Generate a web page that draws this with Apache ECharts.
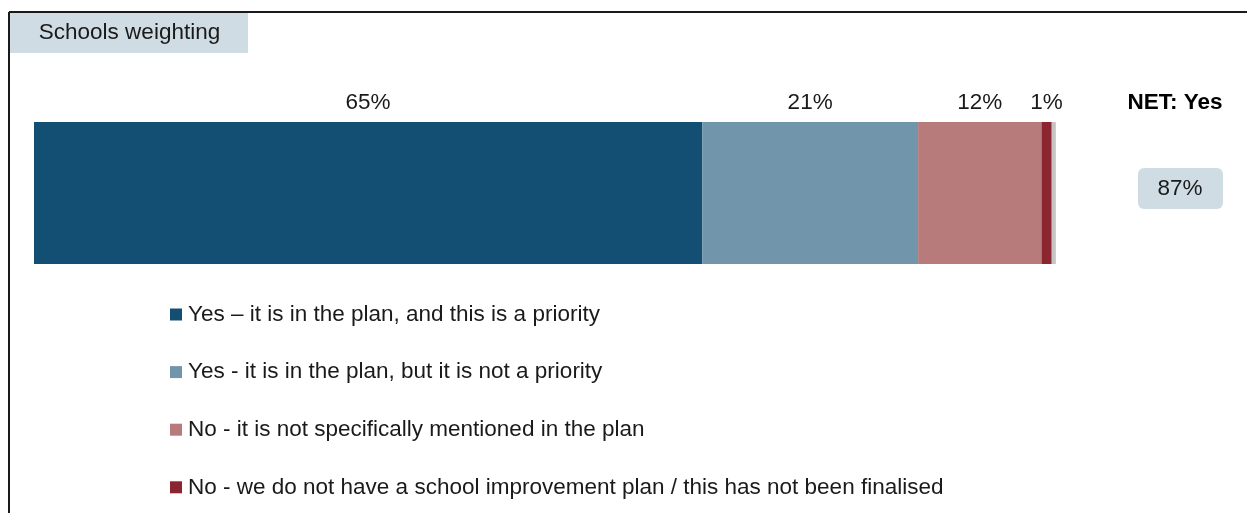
<!DOCTYPE html>
<html>
<head>
<meta charset="utf-8">
<style>
  html, body { margin: 0; padding: 0; background: #ffffff; }
  #chart { width: 1247px; height: 513px; }
</style>
<script src="https://cdn.jsdelivr.net/npm/echarts@6/dist/echarts.min.js"></script>
</head>
<body>
<div id="chart"></div>
<script>
// Share of schools (weighted) by how the topic features in the school improvement plan
const panelTitle = 'Schools weighting';
const category = ['Schools weighting'];
const seriesNames = [
  'Yes \u2013 it is in the plan, and this is a priority',
  'Yes - it is in the plan, but it is not a priority',
  'No - it is not specifically mentioned in the plan',
  'No - we do not have a school improvement plan / this has not been finalised'
];
const seriesValues = [65, 21, 12, 1];
const remainderValue = 0.4;           // small unlabelled remainder (grey)
const netLabel = 'NET: Yes';
const netYes = 87;

const colors = ['#124f73', '#7195ab', '#b87b7c', '#8b2530'];
const remainderColor = '#c4c4c4';
const FONT = '"Liberation Sans", Arial, sans-serif';
const FS = 22.5;

const chart = echarts.init(document.getElementById('chart'), null, { renderer: 'canvas' });

const series = seriesValues.map((v, i) => ({
  name: seriesNames[i],
  type: 'bar',
  stack: 'total',
  barWidth: '100%',
  data: [v],
  itemStyle: { color: colors[i] },
  label: {
    show: true,
    position: 'top',
    distance: 8,
    formatter: p => p.value + '%',
    color: '#1a1a1a',
    fontFamily: FONT,
    fontSize: FS
  }
}));
series.push({
  name: 'remainder',
  type: 'bar',
  stack: 'total',
  barWidth: '100%',
  data: [remainderValue],
  itemStyle: { color: remainderColor },
  label: { show: false }
});

chart.setOption({
  animation: false,
  backgroundColor: '#ffffff',
  grid: { left: 34, right: 185, top: 122, height: 142, containLabel: false },
  xAxis: { type: 'value', min: 0, max: 100, show: false },
  yAxis: { type: 'category', data: category, show: false },
  legend: {
    data: seriesNames,
    orient: 'vertical',
    left: 165,
    top: 298,
    icon: 'rect',
    itemWidth: 12,
    itemHeight: 12,
    itemGap: 34.6,
    textStyle: {
      color: '#1a1a1a',
      fontFamily: FONT,
      fontSize: FS,
      lineHeight: 22.3,
      padding: [0, 0, 0, 1]
    }
  },
  series: series,
  graphic: [
    // outer frame (left and top edges)
    { type: 'line', shape: { x1: 9, y1: 12, x2: 9, y2: 513 }, style: { stroke: '#1a1a1a', lineWidth: 2 } },
    { type: 'line', shape: { x1: 9, y1: 12, x2: 1247, y2: 12 }, style: { stroke: '#1a1a1a', lineWidth: 2 } },
    // panel title tab
    { type: 'rect', shape: { x: 10, y: 13, width: 238, height: 40 }, style: { fill: '#d0dce4' } },
    { type: 'text', x: 129.5, y: 33, style: { text: panelTitle, fill: '#1a1a1a', font: FS + 'px ' + FONT, align: 'center', verticalAlign: 'middle' } },
    // NET column
    { type: 'text', x: 1175, y: 103, style: { text: netLabel, fill: '#000000', font: 'bold ' + FS + 'px ' + FONT, align: 'center', verticalAlign: 'middle' } },
    { type: 'rect', shape: { x: 1138, y: 168, width: 85, height: 41, r: 6 }, style: { fill: '#d0dce4' } },
    { type: 'text', x: 1180, y: 189, style: { text: netYes + '%', fill: '#1a1a1a', font: FS + 'px ' + FONT, align: 'center', verticalAlign: 'middle' } }
  ]
});
</script>
</body>
</html>
